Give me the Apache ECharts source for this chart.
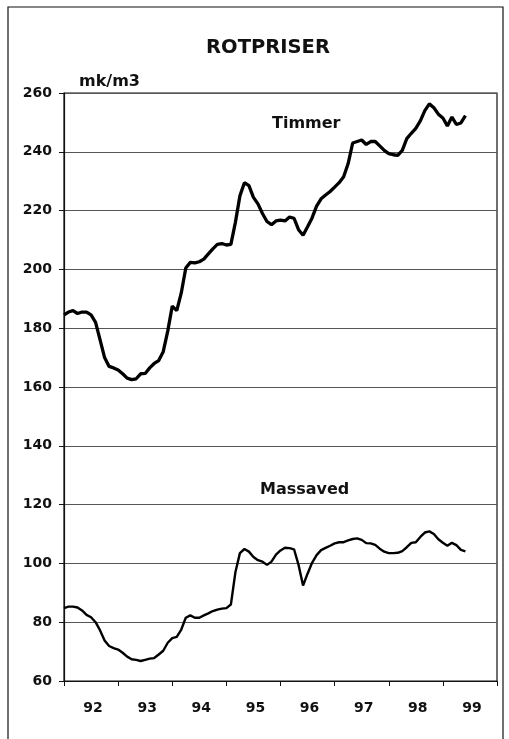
<!DOCTYPE html>
<html>
<head>
    <meta charset="utf-8">
    <title>ROTPRISER</title>
    <script src="https://cdn.jsdelivr.net/npm/echarts@6/dist/echarts.min.js"></script>
    <style>
        html, body { margin: 0; padding: 0; background: #fff; }
    </style>
</head>
<body>
<div id="main" style="width: 509px;height:739px;"></div>
<script type="text/javascript">
    // year labels on the x axis (one category per year)
    var years = ['92', '93', '94', '95', '96', '97', '98', '99'];
    // monthly prices, mk/m3, from Jan 1992
    var timmer = [184.5, 185.5, 186, 185, 185.5, 185.5, 184.5, 182, 176, 170, 167, 166.5,
        165.8, 164.5, 163, 162.5, 162.8, 164.5, 164.6, 166.5, 168, 169, 172, 179,
        187.5, 186, 192, 200.5, 202.4, 202.2, 202.6, 203.5, 205.3, 207, 208.5, 208.8,
        208.3, 208.5, 216, 225, 229.5, 228.5, 224.5, 222.3, 219, 216.3, 215.2, 216.5,
        216.8, 216.5, 217.8, 217.4, 213.5, 211.6, 214.5, 217.5, 221.5, 224, 225.3, 226.5,
        228, 229.5, 231.5, 236, 243, 243.5, 244, 242.5, 243.5, 243.5, 242, 240.5,
        239.4, 239, 238.8, 240.5, 244.5, 246.3, 248, 250.5, 254, 256.3, 255, 252.8,
        251.5, 248.8, 251.8, 249.3, 249.8, 252.3];
    var massaved = [84.8, 85.3, 85.3, 85, 84, 82.5, 81.7, 80, 77.2, 73.8, 71.9, 71.2,
        70.7, 69.6, 68.3, 67.4, 67.2, 66.8, 67.2, 67.6, 67.8, 69, 70.3, 73,
        74.6, 75, 77.5, 81.5, 82.3, 81.5, 81.5, 82.3, 83, 83.8, 84.3, 84.6,
        84.8, 86, 97, 103.5, 104.9, 104, 102.2, 101.1, 100.6, 99.5, 100.6, 103,
        104.4, 105.3, 105.2, 104.8, 99.5, 92.5, 96.5, 100.2, 102.8, 104.5, 105.3, 106,
        106.8, 107.2, 107.2, 107.8, 108.3, 108.5, 108, 106.9, 106.8, 106.3, 105, 104,
        103.5, 103.5, 103.6, 104.2, 105.5, 107, 107.2, 109, 110.5, 110.9, 110, 108.2,
        107, 106, 107, 106.2, 104.6, 104.1];

    function toPoints(arr) {
        return arr.map(function (v, i) { return [i, v]; });
    }

    var chart = echarts.init(document.getElementById('main'));
    var font = 'DejaVu Sans';
    var option = {
        backgroundColor: '#fff',
        animation: false,
        title: {
            text: 'ROTPRISER',
            left: 263,
            textAlign: 'center',
            top: 33,
            textStyle: { fontFamily: font, fontWeight: 'bold', fontSize: 19.5, color: '#111' }
        },
        grid: {
            left: 64, right: 12, top: 93, bottom: 58,
            show: true, borderColor: '#111', borderWidth: 1.2
        },
        xAxis: [
            {
                type: 'category',
                data: years,
                boundaryGap: true,
                axisLine: { lineStyle: { color: '#111', width: 1.2 } },
                axisTick: { show: true, length: 5, lineStyle: { color: '#111' } },
                axisLabel: { fontFamily: font, fontWeight: 'bold', fontSize: 14, color: '#111', margin: 20, padding: [0, 0, 0, 4] },
                splitLine: { show: false }
            },
            {
                type: 'value',
                min: 0,
                max: 96,
                show: false
            }
        ],
        yAxis: {
            type: 'value',
            min: 60,
            max: 260,
            interval: 20,
            axisLine: { show: true, lineStyle: { color: '#111', width: 1.2 } },
            axisTick: { show: true, length: 5, lineStyle: { color: '#111' } },
            axisLabel: { fontFamily: font, fontWeight: 'bold', fontSize: 14, color: '#111', margin: 12 },
            splitLine: { lineStyle: { color: '#555', width: 1 } }
        },
        series: [
            {
                name: 'Timmer',
                type: 'line',
                xAxisIndex: 1,
                data: toPoints(timmer),
                showSymbol: false,
                lineStyle: { color: '#000', width: 3.3 }
            },
            {
                name: 'Massaved',
                type: 'line',
                xAxisIndex: 1,
                data: toPoints(massaved),
                showSymbol: false,
                lineStyle: { color: '#000', width: 2.4 }
            }
        ],
        graphic: [
            {
                type: 'rect',
                shape: { x: 8, y: 7, width: 495, height: 745 },
                style: { fill: null, stroke: '#111', lineWidth: 1.2 }
            },
            {
                type: 'text',
                left: 79, top: 74,
                style: { text: 'mk/m3', fontFamily: font, fontWeight: 'bold', fontSize: 16, fill: '#111' }
            },
            {
                type: 'text',
                left: 272, top: 116,
                style: { text: 'Timmer', fontFamily: font, fontWeight: 'bold', fontSize: 16, fill: '#111' }
            },
            {
                type: 'text',
                left: 260, top: 482,
                style: { text: 'Massaved', fontFamily: font, fontWeight: 'bold', fontSize: 16, fill: '#111' }
            }
        ]
    };
    chart.setOption(option);
</script>
</body>
</html>
